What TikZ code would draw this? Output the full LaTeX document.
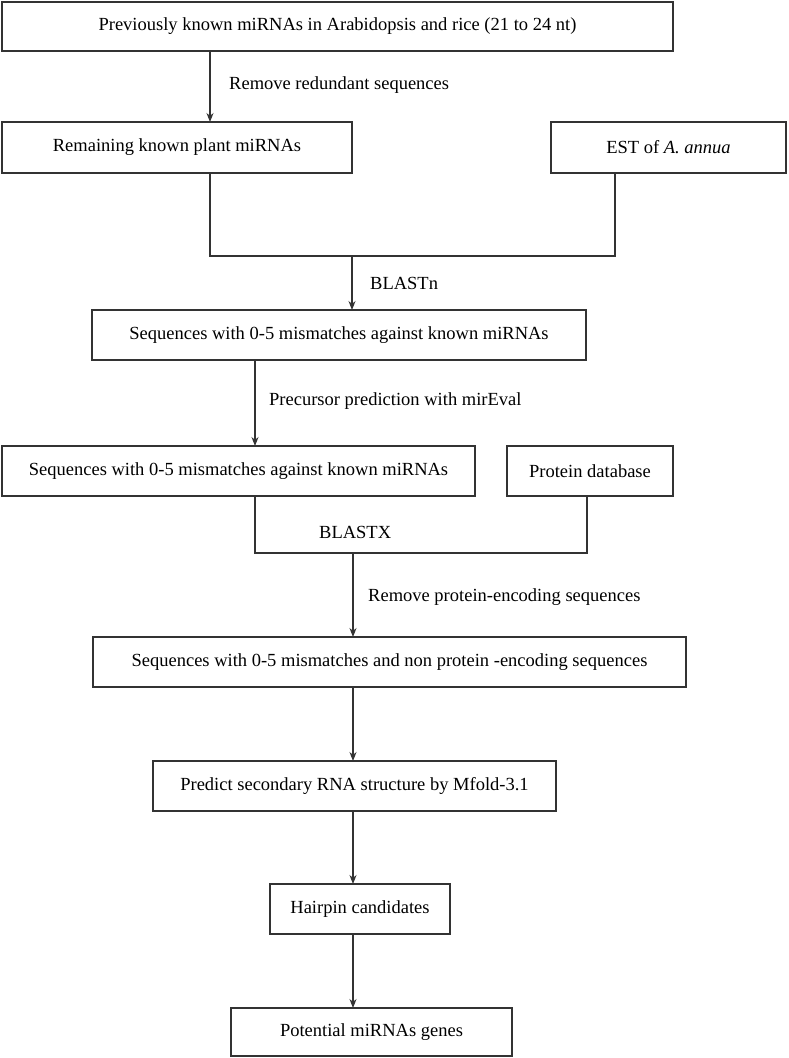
\documentclass[tikz,border=0pt]{standalone}
\usepackage{fontspec}
\setmainfont{Liberation Serif}
\usetikzlibrary{arrows.meta}

\begin{document}
\begin{tikzpicture}[x=1pt,y=-1pt]
  % some styles
  \tikzset{
    box/.style={
      rectangle,
      draw=black!80,
      line width=1.4pt,
      inner sep=0mm,
      outer sep=0mm,
      font=\fontsize{18.5}{22}\selectfont
    },
    lbl/.style={
      anchor=west,
      inner sep=0mm,
      font=\fontsize{18.5}{22}\selectfont
    },
    line/.style={draw=black!80, line width=1.1pt},
    arr/.style={line, -{Stealth[length=9pt,width=7pt]}}
  }

\useasboundingbox (0,0) rectangle (788,1058);

% boxes
\node[box, minimum width=671pt, minimum height=49pt] (known) at (337.5,26.5)
  {Previously known miRNAs in Arabidopsis and rice (21 to 24 nt)};
\node[box, minimum width=350pt, minimum height=51pt] (remain) at (177,147.5)
  {Remaining known plant miRNAs};
\node[box, minimum width=235pt, minimum height=51pt] (est) at (668.5,147.5)
  {EST of \textit{A. annua}};
\node[box, minimum width=494pt, minimum height=50pt] (seqA) at (339,335)
  {Sequences with 0-5 mismatches against known miRNAs};
\node[box, minimum width=473pt, minimum height=50pt] (seqB) at (238.5,471)
  {Sequences with 0-5 mismatches against known miRNAs};
\node[box, minimum width=166pt, minimum height=50pt] (protein) at (590,471)
  {Protein database};
\node[box, minimum width=593pt, minimum height=50pt] (seqnon) at (389.5,662)
  {Sequences with 0-5 mismatches and non protein -encoding sequences};
\node[box, minimum width=403pt, minimum height=50pt] (mfold) at (354.5,786)
  {Predict secondary RNA structure by Mfold-3.1};
\node[box, minimum width=180pt, minimum height=50pt] (hairpin) at (360,909)
  {Hairpin candidates};
\node[box, minimum width=281pt, minimum height=48pt] (genes) at (371.5,1032)
  {Potential miRNAs genes};

% axes of the connectors
\coordinate (axA) at (210,0);
\coordinate (axB) at (615,0);
\coordinate (axC) at (255,0);
\coordinate (axD) at (587,0);
\coordinate (axE) at (353,0);
\coordinate (joinA) at (352,256);
\coordinate (joinB) at (353,553);

% labels
\node[lbl] (lredund) at (229,85) {Remove redundant sequences};
\node[lbl] (lblastn) at (370,283) {BLASTn};
\node[lbl] (lprec) at (269,401) {Precursor prediction with mirEval};
\node[lbl] (lblastx) at (319,532) {BLASTX};
\node[lbl] (lremprot) at (368,597) {Remove protein-encoding sequences};

% connectors
\draw[arr] (known.south -| axA) -- (remain.north -| axA);
\draw[line] (remain.south -| axA) -- (axA |- joinA) -- (axB |- joinA) -- (est.south -| axB);
\draw[arr] (joinA) -- (seqA.north -| joinA);
\draw[arr] (seqA.south -| axC) -- (seqB.north -| axC);
\draw[line] (seqB.south -| axC) -- (axC |- joinB) -- (axD |- joinB) -- (protein.south -| axD);
\draw[arr] (joinB) -- (seqnon.north -| joinB);
\foreach \a/\b in {seqnon/mfold, mfold/hairpin, hairpin/genes}
  \draw[arr] (\a.south -| axE) -- (\b.north -| axE);

\end{tikzpicture}
\end{document}
